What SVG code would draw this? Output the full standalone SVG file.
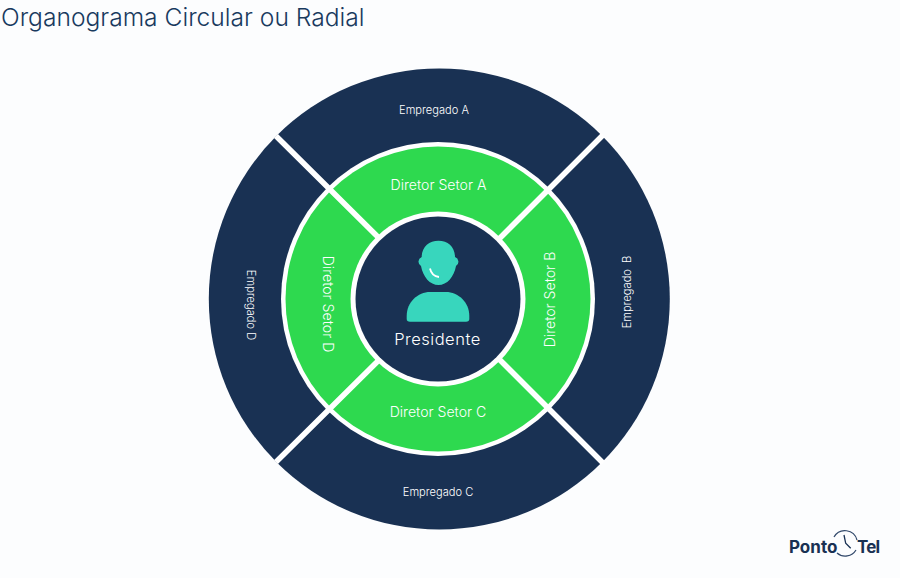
<svg xmlns="http://www.w3.org/2000/svg" width="900" height="578" viewBox="0 0 900 578">
<style>
text{font-family:Inter,"Noto Sans","Liberation Sans",sans-serif;fill:#fff;text-anchor:middle}
.sep{stroke:#fff;stroke-width:5.5;fill:none}
.dir{font-size:14.1px;font-weight:300}
.emp{font-size:11.1px;font-weight:300}
.navy{fill:#193153}
.mint{fill:#38d6bd}
.logo{font-size:17px;font-weight:700;fill:#193153;text-anchor:start}
</style>
<rect width="900" height="578" fill="#fcfdfe"/>
<text x="1" y="26" style="font-size:24.6px;font-weight:300;fill:#193a5e;text-anchor:start">Organograma Circular ou Radial</text>
<g id="empregados">
<circle class="navy" cx="439.3" cy="299" r="230.5"/>
</g>
<g id="diretores">
<circle cx="438" cy="299" r="157" fill="#fff"/>
<circle cx="438" cy="299" r="152.5" fill="#2ed94f"/>
</g>
<g id="connectors">
<path class="sep" d="M603 135L497 241M276 136L382 241M276 462L382 357M603 463L497 357"/>
</g>
<g id="presidente">
<circle cx="438" cy="299" r="87.5" fill="#fff"/>
<circle class="navy" cx="438" cy="299" r="82.5"/>
<path class="mint" d="M421.7 257C421.700 247 429 240.700 438.500 240.700S455 247 455 257A5 5 0 0 1 456 266C454 277 447 285 438.500 285S423 277 421 266A5 5 0 0 1 421.700 257Z"/>
<path d="M430 268.500C431 273 434 276.500 439 277" fill="none" stroke="#fff" stroke-width="1.800"/>
<path class="mint" d="M406.700 319V316C406.700 302 418 292 430 292H446C458 292 469.300 302 469.300 316V319Q469.300 321.700 466 321.700H410Q406.700 321.700 406.700 319Z"/>
<text x="437.500" y="345" style="font-size:16.500px;font-weight:300;letter-spacing:.5px">Presidente</text>
</g>
<g id="diretor-a"><text class="dir" x="438.500" y="190">Diretor Setor A</text></g>
<g id="diretor-b"><text class="dir" transform="translate(554.500 299.500) rotate(-90)">Diretor Setor B</text></g>
<g id="diretor-c"><text class="dir" x="438" y="417">Diretor Setor C</text></g>
<g id="diretor-d"><text class="dir" transform="translate(323 304) rotate(90)">Diretor Setor D</text></g>
<g id="empregado-a"><text class="emp" x="434" y="114">Empregado A</text></g>
<g id="empregado-b"><text class="emp" style="white-space:pre" transform="translate(630.500 292) rotate(-90)">Empregado  B</text></g>
<g id="empregado-c"><text class="emp" x="438" y="496">Empregado C</text></g>
<g id="empregado-d"><text class="emp" transform="translate(246.500 305) rotate(90)">Empregado D</text></g>
<g id="logo">
<text class="logo" x="789" y="552.500">Ponto</text>
<text class="logo" x="857" y="552.500" style="letter-spacing:-.8px">Tel</text>
<path d="M834 537A12.500 12.500 0 0 1 857 540M837 553A12.500 12.500 0 0 0 856 550" fill="none" stroke="#31486a" stroke-width="1.200"/>
<path d="M844 535L845.700 543.300L850.700 548.300" fill="none" stroke="#193153" stroke-width="1.300"/>
</g>
</svg>
